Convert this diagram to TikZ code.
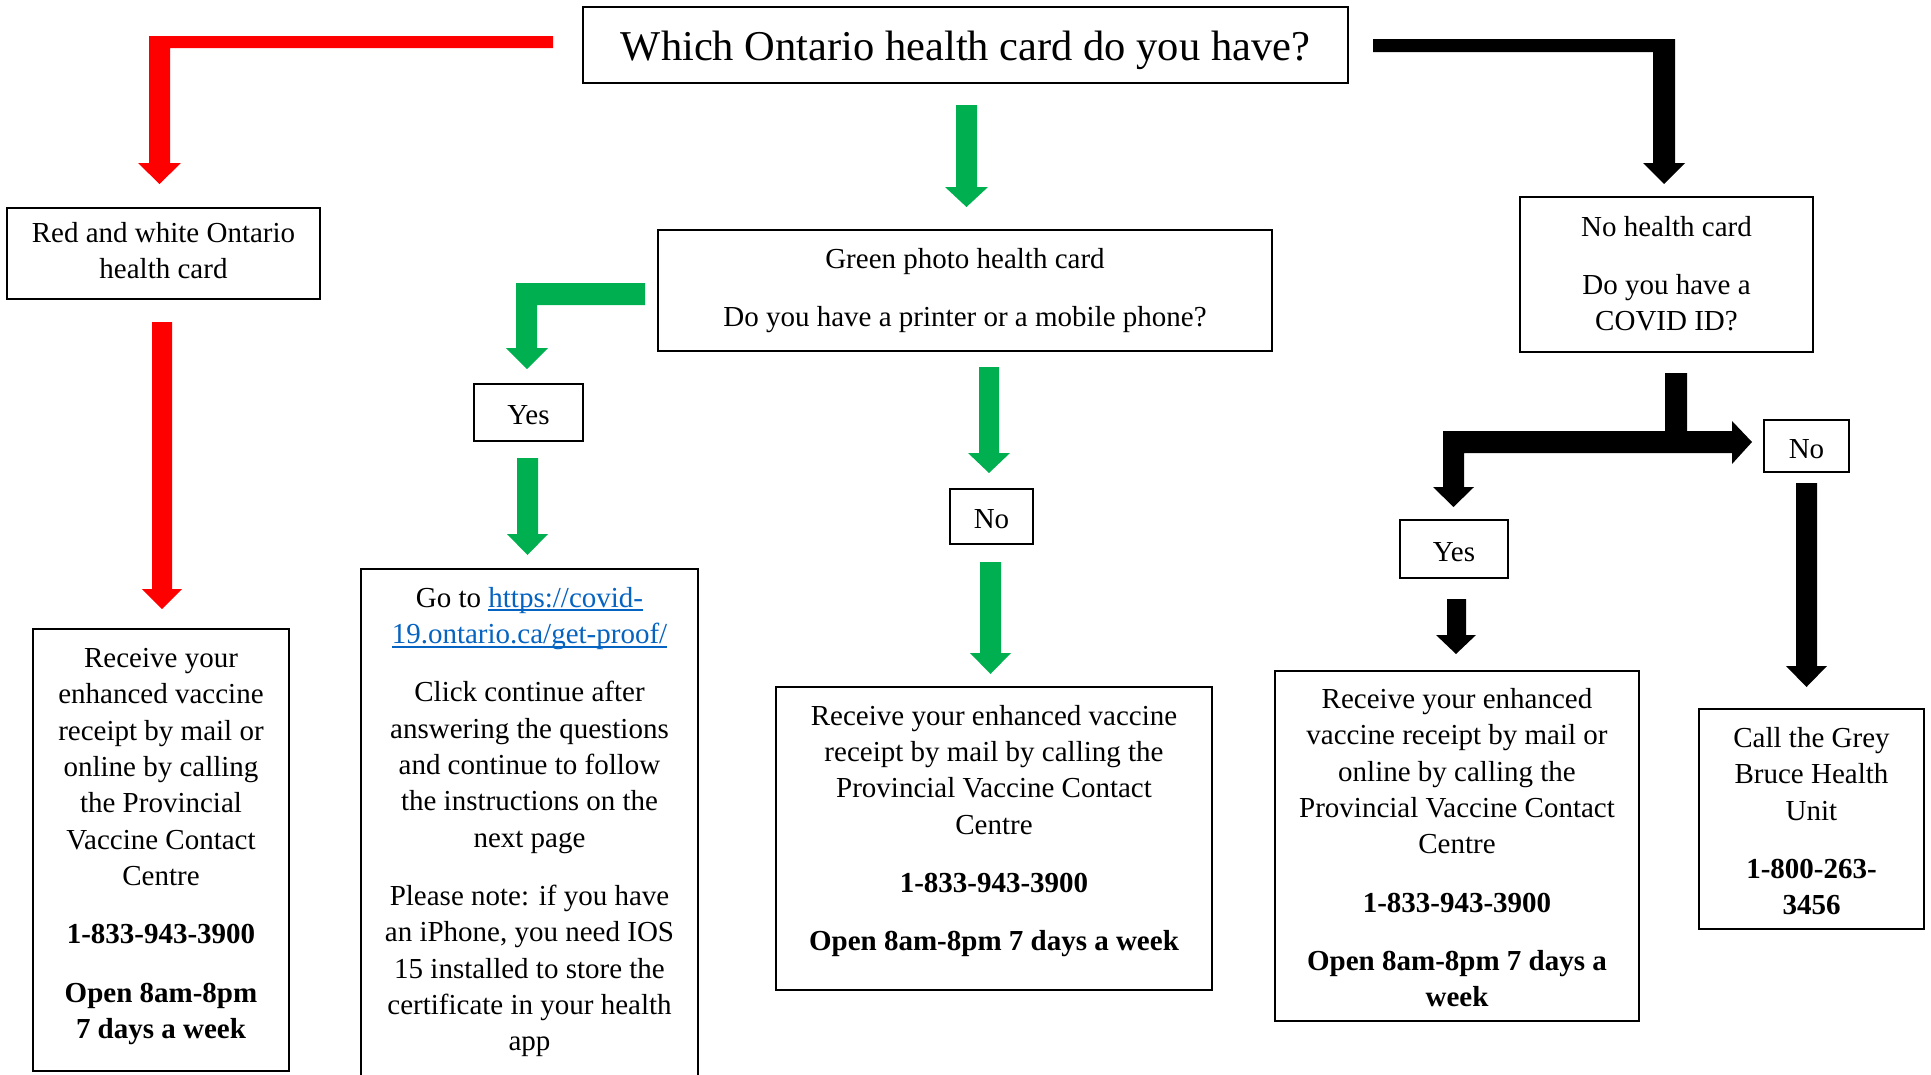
\documentclass[tikz,border=0pt]{standalone}
\usepackage{fontspec}
\setmainfont{Liberation Serif}
\definecolor{arrred}{RGB}{255,0,0}
\definecolor{arrgreen}{RGB}{0,176,80}
\definecolor{linkblue}{RGB}{5,99,193}
\newcommand\linkul[1]{\leavevmode\setbox0=\hbox{#1}\rlap{\rule[-4pt]{\wd0}{2pt}}\box0}
\newcommand\mystrut{\rule[\dimexpr-0.3\baselineskip+5pt\relax]{0pt}{\baselineskip}}
\begin{document}
\begin{tikzpicture}[x=1pt,y=-1pt,
  box/.style={draw, line width=2.2pt, inner sep=0pt, align=center,
    font=\fontsize{29}{36.3}\selectfont,
    execute at begin node=\mystrut, execute at end node=\mystrut},
  txt/.style={align=center, inner sep=0pt, font=\fontsize{29}{36.3}\selectfont,
    execute at begin node=\mystrut, execute at end node=\mystrut},
  redarr/.style={fill=arrred},
  greenarr/.style={fill=arrgreen},
  blackarr/.style={fill=black}]
\useasboundingbox (0,0) rectangle (1931,1074);
\fill[white] (0,0) rectangle (1931,1074);

% ---------- boxes ----------
\node[box, minimum width=765pt, minimum height=76pt, font=\fontsize{42.5}{50}\selectfont] (title) at (965.5,45) {Which Ontario health card do you have?};
\node[box, minimum width=313pt, minimum height=91pt] (rw) at (163.5,253.5) {Red and white Ontario\\health card};
\node[box, minimum width=614pt, minimum height=121pt] (green) at (965,290.5) {Green photo health card\\[22pt]Do you have a printer or a mobile phone?};
\node[box, minimum width=293pt, minimum height=155pt] (nohc) at (1666.5,274.5) {};
\node[txt] (nohctxt) at (1666.5,276.5) {No health card\\[22pt]Do you have a\\COVID ID?};
\node[box, minimum width=109pt, minimum height=57pt] (yesG) at (528.5,412.5) {Yes};
\node[box, minimum width=83pt, minimum height=55pt] (noG) at (991.5,516.5) {No};
\node[box, minimum width=108pt, minimum height=58pt] (yesB) at (1454,549) {Yes};
\node[box, minimum width=85pt, minimum height=52pt] (noB) at (1806.5,446) {No};

\node[box, minimum width=256pt, minimum height=442pt] (recLbox) at (161,850) {};
\node[box, minimum width=337pt, minimum height=531pt] (linkbox) at (529.5,834.5) {};
\node[box, minimum width=436pt, minimum height=303pt] (recMbox) at (994,838.5) {};
\node[box, minimum width=364pt, minimum height=350pt] (recRbox) at (1457,846) {};
\node[box, minimum width=225pt, minimum height=220pt] (greybox) at (1811.5,819) {};

\node[txt] (recL) at (161,846.5) {Receive your\\enhanced vaccine\\receipt by mail or\\online by calling\\the Provincial\\Vaccine Contact\\Centre\\[22pt]\textbf{1-833-943-3900}\\[22pt]\textbf{Open 8am-8pm}\\\textbf{7 days a week}};
\node[txt] (link) at (529.5,822) {Go to {\color{linkblue}\linkul{https://covid-}}\\{\color{linkblue}\linkul{19.ontario.ca/get-proof/}}\\[22pt]Click continue after\\answering the questions\\and continue to follow\\the instructions on the\\next page\\[22pt]Please note: if you have\\an iPhone, you need IOS\\15 installed to store the\\certificate in your health\\app};
\node[txt] (recM) at (994,831) {Receive your enhanced vaccine\\receipt by mail by calling the\\Provincial Vaccine Contact\\Centre\\[22pt]\textbf{1-833-943-3900}\\[22pt]\textbf{Open 8am-8pm 7 days a week}};
\node[txt] (recR) at (1457,850.5) {Receive your enhanced\\vaccine receipt by mail or\\online by calling the\\Provincial Vaccine Contact\\Centre\\[22pt]\textbf{1-833-943-3900}\\[22pt]\textbf{Open 8am-8pm 7 days a}\\\textbf{week}};
\node[txt] (grey) at (1811.5,824) {Call the Grey\\Bruce Health\\Unit\\[22pt]\textbf{1-800-263-}\\\textbf{3456}};

% ---------- block arrows ----------
% red: title -> red and white card
\fill[redarr] (553,36) -- (149,36) -- (149,163) -- (138,163) -- (159.5,184) -- (181,163) -- (170,163) -- (170,48) -- (553,48) -- cycle;
% red: card -> receipt
\fill[redarr] (152,322) -- (172,322) -- (172,589) -- (182,589) -- (162,609) -- (142,589) -- (152,589) -- cycle;

% green: title -> green card
\fill[greenarr] (956,105) -- (977,105) -- (977,187) -- (988,187) -- (966.5,207) -- (945,187) -- (956,187) -- cycle;
% green: green card -> yes
\fill[greenarr] (645,283) -- (516,283) -- (516,348) -- (506,348) -- (527,369) -- (548,348) -- (537,348) -- (537,305) -- (645,305) -- cycle;
% green: yes -> link
\fill[greenarr] (517,458) -- (538,458) -- (538,534) -- (548,534) -- (527.5,555) -- (507,534) -- (517,534) -- cycle;
% green: green card -> no
\fill[greenarr] (979,367) -- (999,367) -- (999,453) -- (1010,453) -- (989,473) -- (968,453) -- (979,453) -- cycle;
% green: no -> receipt
\fill[greenarr] (980,562) -- (1001,562) -- (1001,653) -- (1011,653) -- (990.5,674) -- (970,653) -- (980,653) -- cycle;

% black: title -> no health card
\fill[blackarr] (1373,39) -- (1675,39) -- (1675,163) -- (1685,163) -- (1664,184) -- (1643,163) -- (1653,163) -- (1653,52) -- (1373,52) -- cycle;
% black: branch to yes / no
\fill[blackarr] (1665,373) -- (1687,373) -- (1687,431) -- (1732,431) -- (1732,421) -- (1752,442) -- (1732,464) -- (1732,453) -- (1464,453) -- (1464,487) -- (1474,487) -- (1453.5,507) -- (1433,487) -- (1443,487) -- (1443,431) -- (1665,431) -- cycle;
% black: yes -> receipt
\fill[blackarr] (1447,599) -- (1466,599) -- (1466,635) -- (1476,635) -- (1456,654) -- (1436,635) -- (1447,635) -- cycle;
% black: no -> grey bruce
\fill[blackarr] (1796,483) -- (1817,483) -- (1817,666) -- (1827,666) -- (1806.5,687) -- (1786,666) -- (1796,666) -- cycle;
\end{tikzpicture}
\end{document}
